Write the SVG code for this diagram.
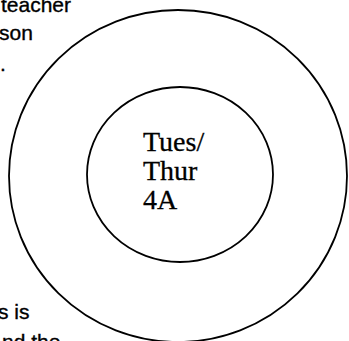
<svg xmlns="http://www.w3.org/2000/svg" width="349" height="341" viewBox="0 0 349 341">
  <style>
    .ring { fill: none; stroke: #000; stroke-width: 1.8; }
    .side { font-family: "Liberation Sans", Arial, sans-serif; font-size: 21px; fill: #000; stroke: #000; stroke-width: 0.35; }
    .lbl { font-family: "Liberation Serif", "Times New Roman", serif; font-size: 28px; fill: #000; stroke: #000; stroke-width: 0.3; }
  </style>
  <rect width="349" height="341" fill="#fff"/>
  <g id="side-text">
    <text class="side" x="1" y="12">teacher</text>
    <text class="side" x="-1" y="40">son</text>
    <text class="side" x="0" y="71">.</text>
    <text class="side" x="-2" y="319">s is</text>
    <text class="side" x="2" y="349">nd the</text>
  </g>
  <g id="outer">
    <ellipse class="ring" cx="178" cy="176" rx="169" ry="166"/>
  </g>
  <g id="inner">
    <ellipse class="ring" cx="180" cy="174.5" rx="93" ry="87.5"/>
    <text class="lbl" x="143" y="151">Tues/</text>
    <text class="lbl" x="143" y="180">Thur</text>
    <text class="lbl" x="143" y="209">4A</text>
  </g>
  <g id="connectors"/>
</svg>
